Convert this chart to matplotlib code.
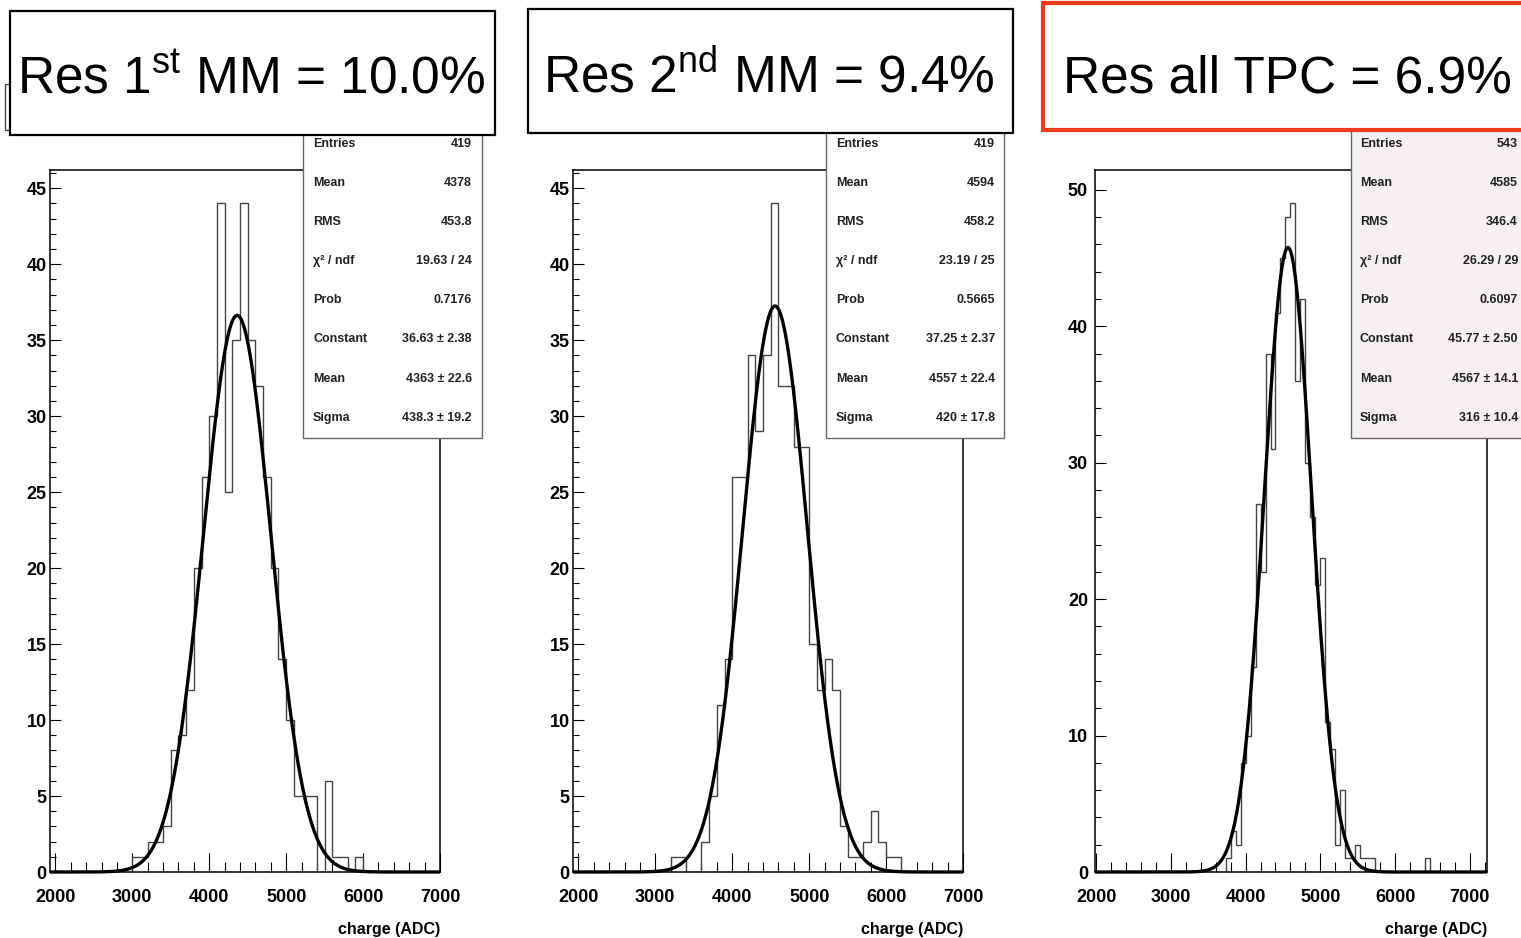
import matplotlib
matplotlib.use('Agg')
import matplotlib.pyplot as plt
from matplotlib.patches import Rectangle
from matplotlib.ticker import MultipleLocator
import numpy as np

plt.rcParams['font.family'] = 'Liberation Sans'
plt.rcParams['mathtext.fontset'] = 'custom'
plt.rcParams['mathtext.rm'] = 'Liberation Sans'

W, H = 1521, 938

# --- histogram contents (charge spectra) ---
mm1_start, mm1_width = 3000, 100
mm1_counts = [1, 1, 2, 2, 3, 8, 9, 12, 20, 26, 30, 44, 25, 35, 44, 35, 32, 26, 20,
              14, 10, 5, 5, 5, 0, 6, 1, 1, 0, 1]

mm2_start, mm2_width = 3200, 100
mm2_counts = [1, 1, 0, 0, 2, 5, 11, 14, 26, 26, 34, 29, 34, 44, 32, 32, 28, 28, 15,
              12, 14, 12, 3, 1, 1, 2, 4, 2, 1, 1]

tpc_start, tpc_width = 56 * 200 / 3, 200 / 3
tpc_counts = [1, 3, 2, 8, 10, 15, 27, 22, 38, 31, 41, 45, 48, 49, 36, 42, 30, 26, 21,
              23, 11, 9, 2, 6, 1, 1, 2, 1, 1, 1, 0, 0, 0, 0, 0, 0, 0, 0, 0, 0, 1]

# --- gaussian fit results ---
fit_const = [36.63, 37.25, 45.77]
fit_mean = [4363, 4557, 4567]
fit_sigma = [438.3, 420, 316]

# --- statistics boxes ---
stat_names = ['Entries', 'Mean', 'RMS', 'χ² / ndf', 'Prob', 'Constant', 'Mean', 'Sigma']
stat_values = [
    ['419', '4378', '453.8', '19.63 / 24', '0.7176', '36.63 ± 2.38', '4363 ± 22.6', '438.3 ± 19.2'],
    ['419', '4594', '458.2', '23.19 / 25', '0.5665', '37.25 ± 2.37', '4557 ± 22.4', '420 ± 17.8'],
    ['543', '4585', '346.4', '26.29 / 29', '0.6097', '45.77 ± 2.50', '4567 ± 14.1', '316 ± 10.4'],
]

titles = ['Res 1$^{\\mathrm{st}}$ MM = 10.0%',
          'Res 2$^{\\mathrm{nd}}$ MM = 9.4%',
          'Res all TPC = 6.9%']

hists = [(mm1_start, mm1_width, mm1_counts),
         (mm2_start, mm2_width, mm2_counts),
         (tpc_start, tpc_width, tpc_counts)]

# layout in pixels: axes left/right, x range, y max, y ticks
panels = [
    dict(left=50, right=440, xlim=(1930, 7000), ymax=46.2, ymaj=5, ymin=1, ypad=2.5),
    dict(left=573, right=963, xlim=(1930, 7000), ymax=46.2, ymaj=5, ymin=1, ypad=2.5),
    dict(left=1095, right=1487, xlim=(1985, 7230), ymax=51.45, ymaj=10, ymin=2, ypad=5),
]
AX_TOP, AX_BOTTOM = 170, 872

stat_boxes = [(303, 482, 313, 472, 'white'),
              (826, 1004, 836, 995, 'white'),
              (1351, 1540, 1360, 1518, '#f4f0f4')]
title_boxes = [(10, 11, 495, 135, 17, 'black', 1.6),
               (528, 9, 1013, 133, 543, 'black', 1.6),
               (1043, 3, 1540, 130, 1063, '#ee3b1e', 3.0)]

fig = plt.figure(figsize=(W / 100, H / 100), dpi=100, facecolor='white')

for i, p in enumerate(panels):
    ax = fig.add_axes([p['left'] / W, 1 - AX_BOTTOM / H,
                       (p['right'] - p['left']) / W, (AX_BOTTOM - AX_TOP) / H])
    start, width, counts = hists[i]
    edges = start + width * np.arange(len(counts) + 1)
    ax.stairs(counts, edges, baseline=0, color='#444444', linewidth=1.0, zorder=2)

    x = np.linspace(p['xlim'][0], p['xlim'][1], 800)
    y = fit_const[i] * np.exp(-0.5 * ((x - fit_mean[i]) / fit_sigma[i]) ** 2)
    ax.plot(x, y, color='black', linewidth=2.4, zorder=3, clip_on=False,
            solid_capstyle='butt')

    ax.set_xlim(*p['xlim'])
    ax.set_ylim(0, p['ymax'])
    ax.xaxis.set_major_locator(MultipleLocator(1000))
    ax.xaxis.set_minor_locator(MultipleLocator(200))
    ax.yaxis.set_major_locator(MultipleLocator(p['ymaj']))
    ax.yaxis.set_minor_locator(MultipleLocator(p['ymin']))
    ax.tick_params(which='both', direction='in', top=False, right=False,
                   width=0.8, color='black')
    ax.tick_params(axis='x', which='major', length=14, pad=12, labelsize=13)
    ax.tick_params(axis='x', which='minor', length=7)
    ax.tick_params(axis='y', which='major', length=8, pad=p['ypad'], labelsize=13)
    ax.tick_params(axis='y', which='minor', length=4)
    for lab in ax.get_xticklabels() + ax.get_yticklabels():
        lab.set_fontweight('bold')
    for s in ax.spines.values():
        s.set_linewidth(1.1)

    ax.set_xlabel('charge (ADC)', loc='right', fontsize=11.5, fontweight='bold')
    ax.xaxis.set_label_coords(1.0, -(922 - AX_BOTTOM) / (AX_BOTTOM - AX_TOP))

# overlay in pixel coordinates for the boxes
ov = fig.add_axes([0, 0, 1, 1], zorder=10)
ov.set_xlim(0, W)
ov.set_ylim(H, 0)
ov.axis('off')

row_y = 144 + 39.1 * np.arange(len(stat_names))
for i, (x0, x1, lx, rx, bg) in enumerate(stat_boxes):
    ov.add_patch(Rectangle((x0, 120), x1 - x0, 438 - 120, facecolor=bg,
                           edgecolor='#666666', linewidth=1.0, zorder=1))
    for name, val, yy in zip(stat_names, stat_values[i], row_y):
        ov.text(lx, yy, name, ha='left', va='center', fontsize=9,
                fontweight='bold', color='#222222', zorder=2)
        ov.text(rx, yy, val, ha='right', va='center', fontsize=9,
                fontweight='bold', color='#222222', zorder=2)

# stray frame edge at far left
ov.add_patch(Rectangle((5, 84), 6, 46, facecolor='white', edgecolor='#444444',
                       linewidth=1.0, zorder=3))

for (x0, y0, x1, y1, tx, ec, lw), title in zip(title_boxes, titles):
    ov.add_patch(Rectangle((x0, y0), x1 - x0, y1 - y0, facecolor='white',
                           edgecolor=ec, linewidth=lw, zorder=4))
    ov.text(tx, 92.5, title, ha='left', va='baseline', fontsize=37,
            color='black', zorder=5)

fig.savefig('out.png', dpi=100, facecolor='white')
